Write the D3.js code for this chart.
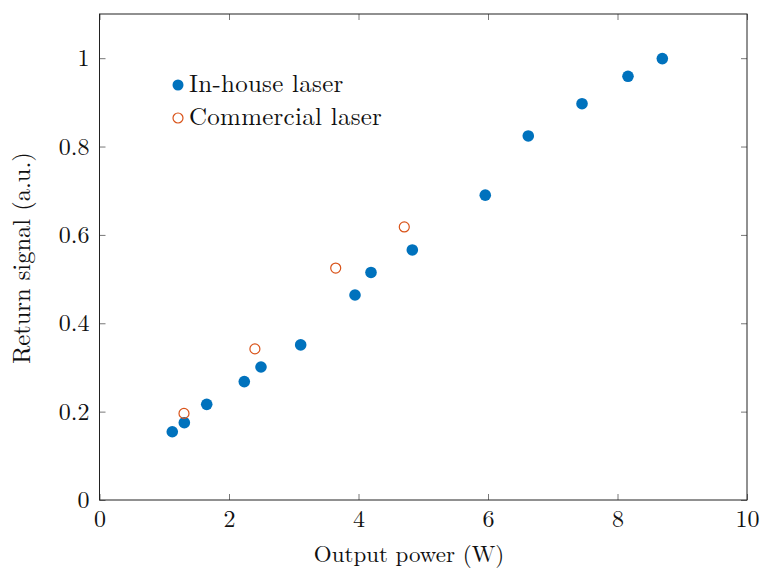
<!DOCTYPE html>
<html><head><meta charset="utf-8">
<script src="https://cdn.jsdelivr.net/npm/d3@7"></script>
<style>body{margin:0;background:#fff}svg{display:block}</style>
</head><body>
<script>
const inhouseX = [1.124,1.31,1.656,2.236,2.494,3.107,3.946,4.193,4.831,5.958,6.622,7.452,8.162,8.692];
const inhouseY = [0.1545,0.175,0.2165,0.268,0.301,0.351,0.464,0.515,0.566,0.690,0.824,0.897,0.959,0.999];
const commX = [1.305,2.40,3.648,4.707];
const commY = [0.196,0.342,0.525,0.618];
const xTicks = [0,2,4,6,8,10];
const yTicks = [0,0.2,0.4,0.6,0.8,1];
const seriesNames = ["In-house laser","Commercial laser"];

const W=762,H=569;
const FF='"Latin Modern Roman","CMU Serif","Liberation Serif",serif';
const m={l:99.5,r:762-747,t:14,b:569-500};
const svg=d3.select("body").append("svg").attr("width",W).attr("height",H);
const x=d3.scaleLinear().domain([0,10]).range([m.l,W-m.r]);
const y=d3.scaleLinear().domain([0,1.1]).range([H-m.b,m.t]);
const tl=6;
const g=svg.append("g");
const ax=(sel,axis)=>{sel.call(axis);sel.attr("font-family",null).attr("font-size",null);sel.select(".domain").remove();sel.selectAll("line").attr("stroke","#555").attr("stroke-width",0.8);sel.selectAll("text").style("font-family",FF).style("font-size","24px").attr("fill","#111");};
g.append("g").attr("transform",`translate(0,${y(0)})`).call(s=>ax(s,d3.axisBottom(x).tickValues(xTicks).tickSize(-tl).tickPadding(10).tickFormat(d3.format("d"))));
g.append("g").attr("transform",`translate(0,${y(1.1)})`).call(s=>{ax(s,d3.axisTop(x).tickValues(xTicks).tickSize(-tl).tickFormat(""));});
g.append("g").attr("transform",`translate(${x(0)},0)`).call(s=>ax(s,d3.axisLeft(y).tickValues(yTicks).tickSize(-tl).tickPadding(10).tickFormat(d=>d===0?"0":d===1?"1":d3.format(".1f")(d))));
g.append("g").attr("transform",`translate(${x(10)},0)`).call(s=>ax(s,d3.axisRight(y).tickValues(yTicks).tickSize(-tl).tickFormat("")));
svg.append("rect").attr("x",x(0)).attr("y",y(1.1)).attr("width",x(10)-x(0)).attr("height",y(0)-y(1.1)).attr("fill","none").attr("stroke","#222").attr("stroke-width",1);

const blue="#0072BD",orange="#D95319";
svg.append("g").selectAll("circle").data(inhouseX).join("circle")
 .attr("cx",d=>x(d)).attr("cy",(d,i)=>y(inhouseY[i])).attr("r",5.8).attr("fill",blue);
svg.append("g").selectAll("circle").data(commX).join("circle")
 .attr("cx",d=>x(d)).attr("cy",(d,i)=>y(commY[i])).attr("r",5).attr("fill","none").attr("stroke",orange).attr("stroke-width",1.2);

const lg=svg.append("g");
lg.append("circle").attr("cx",178).attr("cy",85).attr("r",5.5).attr("fill",blue);
lg.append("circle").attr("cx",178).attr("cy",118).attr("r",5).attr("fill","none").attr("stroke",orange).attr("stroke-width",1.2);
lg.append("text").attr("x",189).attr("y",92).text(seriesNames[0]).style("font-family",FF).style("font-size","25px").style("letter-spacing","0.25px").attr("fill","#111");
lg.append("text").attr("x",189).attr("y",125).text(seriesNames[1]).style("font-family",FF).style("font-size","25px").style("letter-spacing","0.25px").attr("fill","#111");

svg.append("text").attr("x",409).attr("y",562).attr("text-anchor","middle").style("font-family",FF).style("font-size","23px").attr("fill","#111").text("Output power (W)");
svg.append("text").attr("transform",`translate(30,258) rotate(-90)`).attr("text-anchor","middle").style("font-family",FF).style("font-size","24.5px").attr("fill","#111").text("Return signal (a.u.)");
</script>
</body></html>
